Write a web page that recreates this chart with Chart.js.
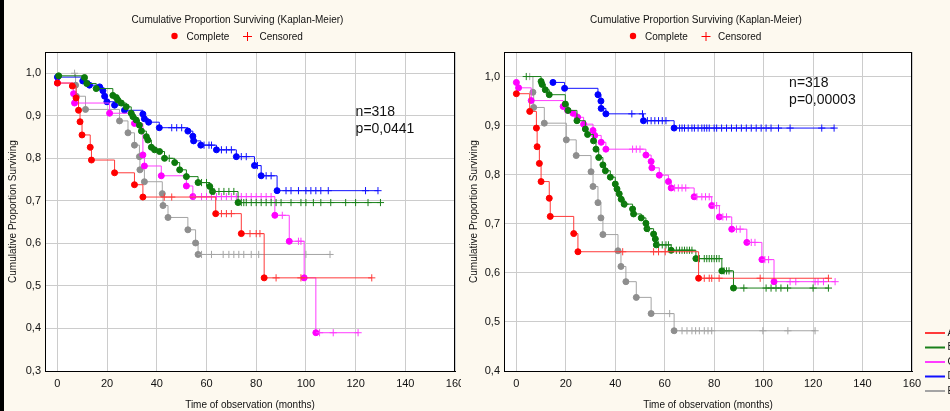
<!DOCTYPE html>
<html>
<head>
<meta charset="utf-8">
<script src="https://cdn.jsdelivr.net/npm/chart.js@4.4.1/dist/chart.umd.min.js"></script>
<style>
  html, body { margin: 0; padding: 0; background: #fdf9ef; }
  body { width: 950px; height: 411px; position: relative; overflow: hidden; }
  #edge { position: absolute; left: 0; top: 0; width: 4px; height: 411px; background: #000; z-index: 5; }
  #cL { position: absolute; left: 0; top: 0; }
  #cR { position: absolute; left: 461px; top: 0; }
</style>
</head>
<body>
<div id="edge"></div>
<canvas id="cL" width="475" height="411"></canvas>
<canvas id="cR" width="489" height="411"></canvas>
<script>
// --- data ---------------------------------------------------------------
const xTicks = [0, 20, 40, 60, 80, 100, 120, 140, 160];
const leftYTicks = [0.3, 0.4, 0.5, 0.6, 0.7, 0.8, 0.9, 1.0];
const rightYTicks = [0.4, 0.5, 0.6, 0.7, 0.8, 0.9, 1.0];

const groupNames = ['A', 'B', 'C', 'D', 'E'];
const markColors = ['#ff0000', '#0c7a0c', '#ff00ff', '#0000ff', '#8e8e8e'];
const lineColors = ['#ff3a3a', '#1a801a', '#ff3cff', '#1010ff', '#a4a4a4'];

// left panel: [time, survival] at each death, and censoring times
const leftA_events = [[0, 0.977], [6, 0.970], [7.5, 0.942], [8.5, 0.913], [9.1, 0.886], [9.9, 0.855],
  [13.2, 0.826], [13.7, 0.796], [23, 0.766], [31, 0.738], [34.4, 0.709], [63.7, 0.670],
  [74, 0.623], [83.2, 0.519]];
const leftA_censored = [43, 46, 66, 68, 70, 77.5, 80, 81.5, 88, 98, 126.5];

const leftB_events = [[0.5, 0.994], [10.9, 0.990], [11.8, 0.976], [15.6, 0.964], [22.3, 0.948],
  [23.7, 0.943], [24.3, 0.937], [25.7, 0.930], [27.7, 0.921], [29.7, 0.906], [30.4, 0.898],
  [31.7, 0.890], [33, 0.878], [33.8, 0.864], [35.8, 0.851], [36.4, 0.843], [37.8, 0.826],
  [39.1, 0.820], [41.1, 0.816], [43.1, 0.800], [47.2, 0.790], [49.2, 0.773], [51.9, 0.757],
  [56.6, 0.743], [61.3, 0.734], [62.4, 0.722], [72.7, 0.696]];
const leftB_censored = [45, 58, 60, 63, 65, 67, 69, 71, 74, 75, 76, 78, 80, 82, 84, 86, 88,
  90, 94, 98, 100, 103, 106, 110, 116, 120, 125, 130];

const leftC_events = [[0, 0.977], [6.5, 0.952], [6.9, 0.930], [21, 0.906], [31, 0.882],
  [34.4, 0.808], [35, 0.782], [41.8, 0.759], [51.9, 0.735], [54.5, 0.710], [87.5, 0.666],
  [93.3, 0.605], [99.3, 0.519], [104, 0.390]];
const leftC_censored = [55, 58, 60, 62, 64, 66, 68, 70, 72, 74, 76, 78, 80, 82, 84, 86,
  90.5, 97, 98, 105.5, 111, 121];

const leftD_events = [[0, 0.991], [10.2, 0.982], [12.9, 0.972], [17, 0.968], [18.3, 0.959],
  [19, 0.946], [19.9, 0.933], [23, 0.925], [27, 0.913], [34.4, 0.904], [35, 0.893],
  [36.7, 0.885], [41, 0.872], [52.5, 0.864], [54.5, 0.852], [54.8, 0.841], [57.7, 0.831],
  [64, 0.820], [72, 0.804], [79.3, 0.783], [82, 0.759], [88.4, 0.724]];
const leftD_censored = [46, 48, 50, 59, 61, 62, 66, 68, 70, 74, 76, 80.5, 84, 86, 92, 94, 97,
  100, 102, 104, 106, 109, 124, 129];

const leftE_events = [[7.3, 0.972], [7.6, 0.946], [11.3, 0.915], [25, 0.888], [28.4, 0.860],
  [31, 0.831], [33, 0.804], [33.2, 0.773], [35, 0.745], [42.2, 0.717], [42.5, 0.689],
  [44.5, 0.661], [52.5, 0.632], [55.6, 0.601], [56.6, 0.574]];
const leftE_censored = [6.9, 58, 62, 66.7, 69, 71, 73, 75, 78, 81, 100, 109.7];

// right panel
const rightA_events = [[0, 0.965], [5.4, 0.929], [8.1, 0.895], [8.4, 0.857], [9.3, 0.823],
  [10, 0.786], [13.3, 0.752], [13.7, 0.715], [23.2, 0.680], [24.9, 0.643], [73.7, 0.589]];
const rightA_censored = [43, 55.5, 57.5, 60.2, 76, 78, 79, 82, 98.6, 126.2];

const rightB_events = [[10, 0.990], [10.4, 0.984], [11.7, 0.973], [13.3, 0.963], [19.8, 0.944],
  [20.9, 0.931], [24.5, 0.910], [27.9, 0.893], [28.8, 0.882], [31.2, 0.869], [32.2, 0.852],
  [33.3, 0.835], [35, 0.820], [36, 0.808], [38, 0.795], [40, 0.781], [40.7, 0.771],
  [41.6, 0.761], [42.4, 0.750], [43.6, 0.740], [47, 0.730], [47.4, 0.720], [50.5, 0.712],
  [52.4, 0.701], [52.8, 0.690], [55.5, 0.679], [56.2, 0.669], [56.6, 0.657], [62.6, 0.646],
  [72.6, 0.629], [83.1, 0.604], [87.8, 0.569]];
const rightB_censored = [4, 44, 53.5, 57.5, 59, 60.5, 61.5, 64.7, 66, 67, 68, 69, 70, 71,
  74, 76, 77, 78, 79, 80, 81, 82, 84, 85, 86, 92, 101, 103, 105, 107, 109.7, 120, 126.2];

const rightC_events = [[0, 0.988], [0.9, 0.977], [6, 0.951], [18.9, 0.939], [20.7, 0.931],
  [22.9, 0.925], [24.8, 0.917], [27.2, 0.903], [31, 0.890], [31.7, 0.880], [34.3, 0.866],
  [36.2, 0.852], [52.4, 0.840], [54.5, 0.827], [54.8, 0.814], [57.8, 0.799], [61.5, 0.786],
  [62.6, 0.773], [71.9, 0.755], [79, 0.737], [82.1, 0.714], [87.1, 0.689], [93.2, 0.662],
  [99.3, 0.627], [104.2, 0.582]];
const rightC_censored = [47, 48.5, 50, 64, 65.5, 67, 68.5, 73, 75, 76.5, 78, 80, 81, 83.5, 85,
  89, 90.5, 95, 96.5, 100.5, 102, 110.7, 113, 120.8, 122, 124.2, 128.9];

const rightD_events = [[14.8, 0.988], [19.5, 0.976], [33, 0.963], [34.2, 0.950], [34.3, 0.935],
  [36.2, 0.924], [51.4, 0.910], [63.8, 0.895]];
const rightD_censored = [46.7, 51, 53, 54.5, 56, 57.5, 59, 60.5, 66, 67, 68, 69.5, 71, 72,
  73.5, 75, 76, 77, 78, 80, 81, 83, 85, 87, 89, 91, 93, 95, 97, 99, 101, 103, 106, 110.7,
  123.5, 128.5];

const rightE_events = [[6.7, 0.968], [7, 0.937], [11.3, 0.905], [20.2, 0.871], [24.2, 0.839],
  [30.2, 0.806], [31, 0.776], [33, 0.743], [34.2, 0.712], [35, 0.678], [41.1, 0.645],
  [42.3, 0.613], [44.3, 0.582], [48.5, 0.550], [54.5, 0.517], [63.8, 0.482]];
const rightE_censored = [5.4, 62, 67, 69, 71, 72.5, 74, 76, 77.5, 79, 99.7, 109.8, 120.8];

const leftNote = ['n=318', 'p=0,0441'];
const rightNote = ['n=318', 'p=0,00003'];

// ------------------------------------------------------------------------
const FONT = "'Liberation Sans', Arial, sans-serif";
Chart.defaults.font.family = FONT;
Chart.defaults.color = '#111';

// KM steps: censored marks sit on the current survival level
function kmPoints(events, cens) {
  const pts = [];
  events.forEach(([t, s]) => pts.push({ x: t, y: s, ev: 1 }));
  cens.forEach(t => pts.push({ x: t, ev: 0 }));
  pts.sort((a, b) => a.x - b.x || b.ev - a.ev);
  let s = 1;
  pts.forEach(p => { if (p.ev) s = p.y; else p.y = s; });
  return pts;
}

function makeDatasets(groups) {
  return groups.map(([ev, ce], i) => {
    const pts = kmPoints(ev, ce);
    return {
      label: groupNames[i],
      data: pts,
      showLine: true,
      stepped: true,
      borderColor: lineColors[i],
      borderWidth: 1,
      pointStyle: pts.map(p => p.ev ? 'circle' : 'cross'),
      pointRadius: pts.map(p => p.ev ? 3 : 3.6),
      pointBackgroundColor: markColors[i],
      pointBorderColor: pts.map(p => p.ev ? markColors[i] : lineColors[i]),
      pointBorderWidth: 1,
    };
  });
}

const kmDeco = {
  id: 'kmDeco',
  beforeDraw(chart) {
    const { ctx, chartArea: a } = chart;
    ctx.save();
    ctx.fillStyle = '#fdf9ef';
    ctx.fillRect(0, 0, chart.width, chart.height);
    ctx.fillStyle = '#ffffff';
    ctx.fillRect(a.left, a.top, a.right - a.left, a.bottom - a.top);
    ctx.restore();
  },
  afterDraw(chart, args, opts) {
    const { ctx, chartArea: a } = chart;
    ctx.save();
    // frame
    ctx.strokeStyle = '#000';
    ctx.lineWidth = 1;
    ctx.strokeRect(a.left + 0.5, a.top + 0.5, a.right - a.left - 1, a.bottom - a.top);

    // header
    const cx = opts.cx;
    ctx.fillStyle = '#111';
    ctx.font = '10px ' + FONT;
    ctx.textAlign = 'center';
    ctx.textBaseline = 'middle';
    ctx.fillText('Cumulative Proportion Surviving (Kaplan-Meier)', cx, 20);
    ctx.textAlign = 'left';
    ctx.fillText('Complete', cx - 51, 37);
    ctx.fillText('Censored', cx + 22, 37);
    ctx.fillStyle = '#ff0000';
    ctx.beginPath();
    ctx.arc(cx - 63, 36, 3.2, 0, Math.PI * 2);
    ctx.fill();
    ctx.strokeStyle = '#ff0000';
    ctx.beginPath();
    ctx.moveTo(cx + 5.5, 36.5); ctx.lineTo(cx + 14.5, 36.5);
    ctx.moveTo(cx + 10, 32); ctx.lineTo(cx + 10, 41);
    ctx.stroke();

    // n / p note, anchored in data space
    const xs = chart.scales.x, ys = chart.scales.y;
    ctx.fillStyle = '#111';
    ctx.font = '14px ' + FONT;
    const nx = xs.getPixelForValue(opts.noteAt[0]);
    const ny = ys.getPixelForValue(opts.noteAt[1]);
    opts.note.forEach((line, i) => ctx.fillText(line, nx, ny + i * 17));

    // group legend (only partly inside the picture)
    if (opts.groupLegend) {
      ctx.font = '10px ' + FONT;
      groupNames.forEach((name, i) => {
        const y = 333 + i * 14.5;
        ctx.strokeStyle = lineColors[i];
        ctx.lineWidth = 2;
        ctx.beginPath();
        ctx.moveTo(chart.width - 25, y);
        ctx.lineTo(chart.width - 5, y);
        ctx.stroke();
        ctx.fillStyle = '#111';
        ctx.fillText(name, chart.width - 2.5, y);
      });
    }
    ctx.restore();
  }
};

function panelOptions(yMin, yTicks, note, noteAt, cx, padRight, yWidth, groupLegend) {
  return {
    responsive: false,
    animation: false,
    events: [],
    layout: { padding: { left: 0, right: padRight, top: 52, bottom: 0 } },
    plugins: {
      legend: { display: false },
      tooltip: { enabled: false },
      kmDeco: { cx: cx, note: note, noteAt: noteAt, groupLegend: groupLegend },
    },
    scales: {
      x: {
        type: 'linear',
        min: -5,
        max: 160,
        afterBuildTicks: ax => { ax.ticks = xTicks.map(v => ({ value: v })); },
        afterFit: ax => { ax.height = 40; },
        grid: { color: '#cccccc', drawTicks: false },
        border: { color: '#000' },
        ticks: { font: { size: 11 }, padding: 6, maxRotation: 0, autoSkip: false,
          callback: v => String(v) },
        title: { display: true, text: 'Time of observation (months)', font: { size: 10 },
          padding: { top: 0, bottom: 0 } },
      },
      y: {
        type: 'linear',
        min: yMin,
        max: 1.05,
        afterBuildTicks: ax => { ax.ticks = yTicks.map(v => ({ value: v })); },
        afterFit: ax => { ax.width = yWidth; },
        grid: { color: '#cccccc', drawTicks: false },
        border: { color: '#000' },
        ticks: { font: { size: 11 }, padding: 4, autoSkip: false,
          callback: v => v.toFixed(1).replace('.', ',') },
        title: { display: true, text: 'Cumulative Proportion Surviving', font: { size: 10 },
          padding: { top: 7, bottom: 0 } },
      },
    },
  };
}

new Chart(document.getElementById('cL'), {
  type: 'scatter',
  data: { datasets: makeDatasets([
    [leftA_events, leftA_censored], [leftB_events, leftB_censored], [leftC_events, leftC_censored],
    [leftD_events, leftD_censored], [leftE_events, leftE_censored]]) },
  options: panelOptions(0.3, leftYTicks, leftNote, [120, 0.909], 237.5, 20, 45, false),
  plugins: [kmDeco],
});

new Chart(document.getElementById('cR'), {
  type: 'scatter',
  data: { datasets: makeDatasets([
    [rightA_events, rightA_censored], [rightB_events, rightB_censored], [rightC_events, rightC_censored],
    [rightD_events, rightD_censored], [rightE_events, rightE_censored]]) },
  options: panelOptions(0.4, rightYTicks, rightNote, [110.3, 0.986], 235, 38, 43, true),
  plugins: [kmDeco],
});
</script>
</body>
</html>
